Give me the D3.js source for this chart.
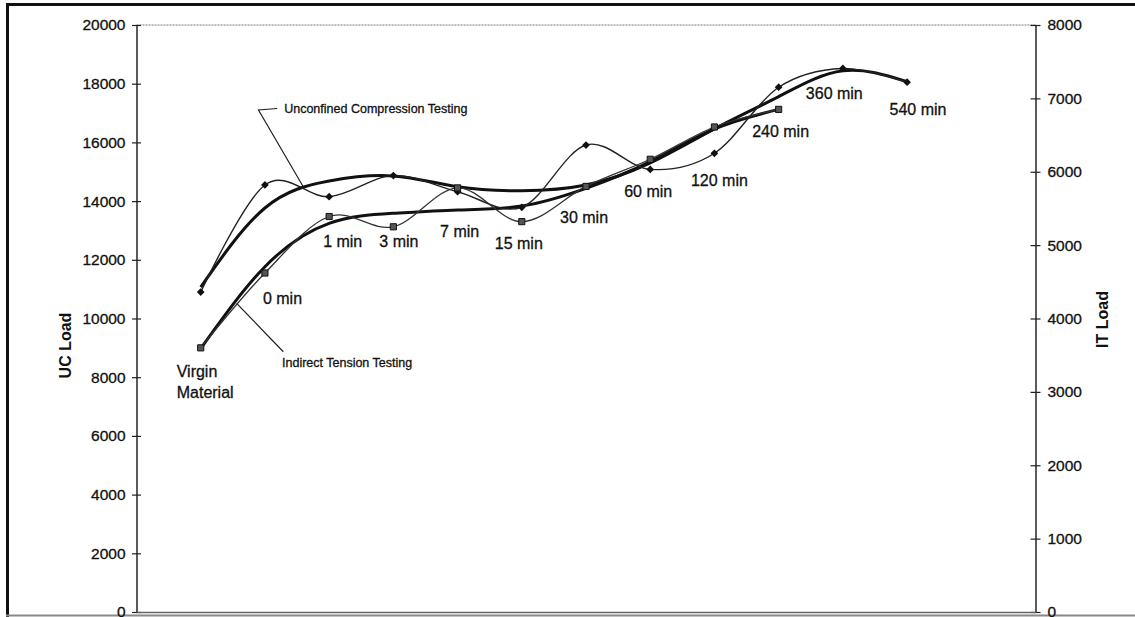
<!DOCTYPE html>
<html>
<head>
<meta charset="utf-8">
<script src="https://cdn.jsdelivr.net/npm/d3@7"></script>
<style>
  html, body { margin: 0; padding: 0; background: #fff; }
  svg { display: block; }
  text { font-family: "Liberation Sans", Arial, sans-serif; fill: #111; }
</style>
</head>
<body>
<svg id="chart" width="1135" height="617"></svg>
<script>
// ---- data -------------------------------------------------------------
const categories = ["Virgin Material", "0 min", "1 min", "3 min", "7 min", "15 min",
                    "30 min", "60 min", "120 min", "240 min", "360 min", "540 min"];
// unconfined compression load (left axis)
const ucLoad  = [10900, 14550, 14150, 14870, 14320, 13790, 15910, 15080, 15630, 17880, 18520, 18050];
// indirect tension load (right axis)
const itLoad  = [3600, 4620, 5390, 5250, 5780, 5320, 5800, 6170, 6610, 6850, null, null];
// fitted trend values at each category
const ucTrend = [11070, 13765, 14685, 14855, 14490, 14355, 14550, 15300, 16460, 17560, 18440, 18070];
const itTrend = [3590, 4706, 5297, 5434, 5479, 5533, 5774, 6137, 6583, 6850, null, null];
const ucTicks = d3.range(0, 20001, 2000);
const itTicks = d3.range(0, 8001, 1000);
const seriesNames = ["Unconfined Compression Testing", "Indirect Tension Testing"];
const axisTitles  = ["UC Load", "IT Load"];

// ---- layout -----------------------------------------------------------
const W = 1135, H = 617;
const plot = { left: 136.5, right: 1035.5, top: 25, bottom: 612 };
const slots = 14;                       // category positions along the axis
// label placement relative to each UC marker (dx, baseline dy)
const labelOffsets = [[-24, 85], [-2, 119.5], [-6, 50], [-14, 71.5], [-17.5, 45.5], [-27, 42],
                      [-26, 78], [-26, 27.5], [-23.5, 32.5], [-26.5, 50], [-37, 31], [-17.5, 33]];

const svg = d3.select("#chart");

const x  = d3.scaleLinear().domain([0, slots]).range([plot.left, plot.right]);
const yL = d3.scaleLinear().domain([0, 20000]).range([plot.bottom, plot.top]);
const yR = d3.scaleLinear().domain([0, 8000]).range([plot.bottom, plot.top]);
const xi = i => x(i + 1);

// ---- frame ------------------------------------------------------------
svg.append("line").attr("x1", 6).attr("x2", W).attr("y1", 4.5).attr("y2", 4.5)
   .attr("stroke", "#111").attr("stroke-width", 3);
svg.append("line").attr("x1", 7.5).attr("x2", 7.5).attr("y1", 3).attr("y2", H)
   .attr("stroke", "#111").attr("stroke-width", 3);
svg.append("line").attr("x1", 6).attr("x2", W).attr("y1", 615.5).attr("y2", 615.5)
   .attr("stroke", "#888").attr("stroke-width", 2);

// top edge of the plot area (dotted)
svg.append("line")
   .attr("x1", x(0)).attr("x2", x(slots)).attr("y1", plot.top).attr("y2", plot.top)
   .attr("stroke", "#777").attr("stroke-width", 1).attr("stroke-dasharray", "2,1");

// ---- axes -------------------------------------------------------------
const fmt = d3.format("d");
const axisL = svg.append("g").attr("transform", `translate(${x(0)},0)`)
  .call(d3.axisLeft(yL).tickValues(ucTicks).tickFormat(fmt)
        .tickSizeInner(4.5).tickSizeOuter(0).tickPadding(6.5));
axisL.selectAll(".tick line").attr("x1", 4.5);
const axisR = svg.append("g").attr("transform", `translate(${x(slots)},0)`)
  .call(d3.axisRight(yR).tickValues(itTicks).tickFormat(fmt)
        .tickSizeInner(5).tickSizeOuter(0).tickPadding(7));
axisR.selectAll(".tick line").attr("x1", -5);
const axisB = svg.append("g").attr("transform", `translate(0,${plot.bottom})`)
  .call(d3.axisBottom(x).tickValues([]).tickSizeOuter(0));

[axisL, axisR, axisB].forEach(g => {
  g.select(".domain").attr("stroke", "#333").attr("stroke-width", 1.6);
  g.selectAll(".tick line").attr("stroke", "#222").attr("stroke-width", 1.2);
  g.selectAll(".tick text").style("font-size", "15.5px")
    .style("font-family", "'Liberation Sans', Arial, sans-serif").attr("fill", "#111")
    .attr("stroke", "#111").attr("stroke-width", 0.3);
});
axisB.select(".domain").attr("stroke", "#666");

// axis titles
svg.append("text").attr("transform", `translate(71,${(plot.top + plot.bottom) / 2 + 27}) rotate(-90)`)
   .attr("text-anchor", "middle").style("font-size", "16px").style("font-weight", "bold")
   .text(axisTitles[0]);
svg.append("text").attr("transform", `translate(1108,${(plot.top + plot.bottom) / 2 + 1}) rotate(-90)`)
   .attr("text-anchor", "middle").style("font-size", "16px").style("font-weight", "bold")
   .text(axisTitles[1]);

// ---- series -----------------------------------------------------------
const smooth = d3.curveCardinal.tension(0);
const ucPts = ucLoad.map((v, i) => [xi(i), yL(v)]);
const itPts = itLoad.map((v, i) => v == null ? null : [xi(i), yR(v)]).filter(Boolean);
const ucTr  = ucTrend.map((v, i) => [xi(i), yL(v)]);
const itTr  = itTrend.map((v, i) => v == null ? null : [xi(i), yR(v)]).filter(Boolean);

const line = c => d3.line().curve(c);

// trend lines (heavy)
svg.append("path").attr("d", line(d3.curveNatural)(ucTr))
   .attr("fill", "none").attr("stroke", "#111").attr("stroke-width", 3);
svg.append("path").attr("d", line(d3.curveNatural)(itTr))
   .attr("fill", "none").attr("stroke", "#111").attr("stroke-width", 3);

// measured values (thin smoothed)
svg.append("path").attr("d", line(smooth)(ucPts))
   .attr("fill", "none").attr("stroke", "#222").attr("stroke-width", 1.4);
svg.append("path").attr("d", line(smooth)(itPts))
   .attr("fill", "none").attr("stroke", "#333").attr("stroke-width", 1.3);

// markers: small rotated squares for UC, squares for IT
svg.append("g").selectAll("path").data(ucPts).join("path")
   .attr("transform", d => `translate(${d[0]},${d[1]}) rotate(45)`)
   .attr("d", d3.symbol(d3.symbolSquare, 30))
   .attr("fill", "#111");
svg.append("g").selectAll("path").data(itPts).join("path")
   .attr("transform", d => `translate(${d[0]},${d[1]})`)
   .attr("d", d3.symbol(d3.symbolSquare, 38))
   .attr("fill", "#555").attr("stroke", "#111").attr("stroke-width", 1);

// ---- category labels --------------------------------------------------
const labels = svg.append("g").style("font-size", "16px")
   .attr("stroke", "#111").attr("stroke-width", 0.3);
categories.forEach((c, i) => {
  const [dx, dy] = labelOffsets[i];
  const t = labels.append("text").attr("x", xi(i) + dx).attr("y", yL(ucLoad[i]) + dy);
  const words = c.includes("min") ? [c] : c.split(" ");
  words.forEach((w, k) => t.append("tspan").attr("x", xi(i) + dx).attr("dy", k ? 21 : 0).text(w));
});

// ---- series callouts --------------------------------------------------
const callUC = [[2.19, 17155], [1.90, 17104], [2.59, 14515]];
svg.append("path").attr("d", d3.line()(callUC.map(d => [x(d[0]), yL(d[1])])))
   .attr("fill", "none").attr("stroke", "#222").attr("stroke-width", 1.2);
svg.append("text").attr("x", x(2.3)).attr("y", yL(17000))
   .style("font-size", "12.5px").attr("stroke", "#111").attr("stroke-width", 0.3)
   .text(seriesNames[0]);

const callIT = [[1.56, 4207], [2.286, 3547]];
svg.append("path").attr("d", d3.line()(callIT.map(d => [x(d[0]), yR(d[1])])))
   .attr("fill", "none").attr("stroke", "#222").attr("stroke-width", 1.2);
svg.append("text").attr("x", x(2.266)).attr("y", yL(8348))
   .style("font-size", "12.5px").attr("stroke", "#111").attr("stroke-width", 0.3)
   .text(seriesNames[1]);
</script>
</body>
</html>
